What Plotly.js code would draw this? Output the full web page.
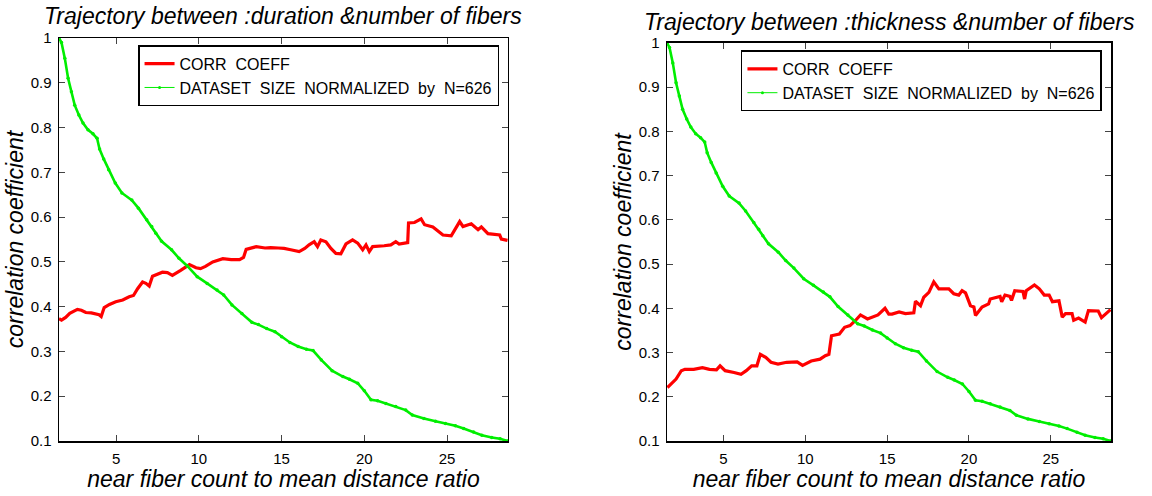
<!DOCTYPE html>
<html>
<head>
<meta charset="utf-8">
<script src="https://cdn.plot.ly/plotly-3.0.1.min.js"></script>
<style>html,body{margin:0;padding:0;background:#fff;}#chart{width:1152px;height:496px;}</style>
</head>
<body>
<div id="chart"></div>
<script>
// Shared x ticks / y ticks
const xTickVals = [5, 10, 15, 20, 25];
const yTickVals = [0.1, 0.2, 0.3, 0.4, 0.5, 0.6, 0.7, 0.8, 0.9, 1];
const yTickText = ["0.1", "0.2", "0.3", "0.4", "0.5", "0.6", "0.7", "0.8", "0.9", "1"];

// Dataset size normalized by N=626 (same in both panels)
const sizeX = [1.55,1.7,1.9,2.1,2.3,2.5,2.75,3.0,3.3,3.6,3.85,4.0,4.25,4.55,4.95,5.35,5.95,6.35,6.85,7.15,7.4,7.75,8.35,8.8,9.3,9.9,10.5,11.1,11.5,12.0,12.6,13.2,13.6,14.1,14.6,15.0,15.5,16.0,16.5,16.9,17.4,18.05,18.7,19.1,19.6,20.0,20.4,20.8,21.3,21.9,22.5,22.9,23.6,24.3,24.9,25.5,26.0,26.6,27.1,27.7,28.2,28.65];
const sizeY = [1.0,0.99,0.955,0.91,0.88,0.85,0.828,0.81,0.795,0.786,0.776,0.752,0.73,0.706,0.676,0.654,0.638,0.62,0.594,0.579,0.564,0.546,0.527,0.508,0.491,0.467,0.452,0.437,0.426,0.404,0.385,0.365,0.36,0.351,0.344,0.333,0.32,0.311,0.305,0.302,0.281,0.257,0.244,0.238,0.229,0.212,0.192,0.19,0.184,0.177,0.169,0.158,0.15,0.144,0.139,0.134,0.128,0.12,0.113,0.108,0.105,0.1];

// Corr coeff: duration vs number of fibers
const durX = [1.55,1.7,1.95,2.2,2.66,2.9,3.17,3.5,3.97,4.1,4.28,4.6,4.98,5.4,5.79,6.05,6.3,6.6,6.8,7.0,7.2,7.6,7.8,8.1,8.4,8.9,9.43,9.83,10.1,10.4,10.84,11.45,11.95,12.46,12.7,12.86,13.47,14.0,14.34,14.8,15.15,15.55,16.06,16.4,16.66,16.97,17.17,17.37,17.68,17.98,18.28,18.58,18.89,19.29,19.6,19.9,20.1,20.3,20.5,21.2,21.6,21.9,22.1,22.62,22.67,23.03,23.43,23.64,24.14,24.75,25.25,25.76,25.96,26.46,26.87,27.07,27.47,28.18,28.28,28.65];
const durY = [0.373,0.37,0.376,0.385,0.394,0.392,0.387,0.386,0.382,0.378,0.398,0.405,0.411,0.415,0.422,0.425,0.44,0.455,0.452,0.446,0.468,0.475,0.477,0.476,0.47,0.481,0.494,0.487,0.485,0.49,0.5,0.507,0.505,0.505,0.51,0.528,0.534,0.531,0.532,0.531,0.530,0.527,0.523,0.53,0.538,0.545,0.534,0.549,0.545,0.530,0.519,0.518,0.540,0.549,0.542,0.527,0.538,0.523,0.534,0.536,0.538,0.545,0.540,0.543,0.587,0.588,0.596,0.583,0.578,0.560,0.558,0.590,0.579,0.585,0.572,0.578,0.563,0.560,0.551,0.548];

// Corr coeff: thickness vs number of fibers
const thkX = [1.57,1.78,2.1,2.42,2.64,3.18,3.71,4.14,4.57,4.79,5.1,5.64,6.07,6.39,6.72,7.04,7.25,7.58,7.9,8.33,8.86,9.5,9.83,10.36,10.9,11.22,11.44,11.6,12.08,12.4,12.73,13.05,13.37,13.8,14.44,14.87,15.1,15.3,15.73,16.12,16.37,16.63,16.73,17.04,17.24,17.55,17.85,18.16,18.77,19.07,19.38,19.58,19.79,20.09,20.3,20.4,20.8,21.2,21.3,21.9,22.0,22.2,22.5,22.6,22.8,23.3,23.4,23.5,24.0,24.3,24.6,24.9,25.1,25.5,25.7,25.9,26.3,26.4,26.7,27.1,27.3,27.9,28.1,28.65];
const thkY = [0.221,0.228,0.24,0.259,0.262,0.262,0.266,0.262,0.261,0.27,0.259,0.255,0.251,0.259,0.27,0.27,0.296,0.289,0.278,0.274,0.278,0.279,0.271,0.281,0.285,0.293,0.296,0.338,0.342,0.357,0.361,0.372,0.385,0.376,0.385,0.4,0.387,0.387,0.392,0.388,0.389,0.39,0.416,0.406,0.425,0.436,0.46,0.444,0.444,0.433,0.43,0.44,0.435,0.406,0.403,0.384,0.403,0.41,0.421,0.427,0.415,0.43,0.427,0.418,0.44,0.438,0.421,0.44,0.453,0.444,0.43,0.43,0.415,0.417,0.38,0.388,0.388,0.373,0.378,0.369,0.395,0.394,0.379,0.397];

const corrName = "CORR&#160;&#160;COEFF";
const sizeName = "DATASET&#160;&#160;SIZE&#160;&#160;NORMALIZED&#160;&#160;by&#160;&#160;N=626";
const leftTitle = "Trajectory between :duration &amp;number of fibers";
const rightTitle = "Trajectory between :thickness &amp;number of fibers";
const xTitle = "near fiber count to mean distance ratio";
const yTitle = "correlation coefficient";

const FONT = "Liberation Sans, Arial, sans-serif";
const RED = "#ff0000", GREEN = "#00ee00";

function panel(xa, ya, leg, cx, cy) {
  return [
    {x: cx, y: cy, xaxis: xa, yaxis: ya, legend: leg, name: corrName, mode: "lines",
     line: {color: RED, width: 3.2}},
    {x: sizeX, y: sizeY, xaxis: xa, yaxis: ya, legend: leg, mode: "lines+markers", showlegend: false,
     line: {color: GREEN, width: 2.6}, marker: {color: GREEN, size: 3.5}},
    {x: [null], y: [null], xaxis: xa, yaxis: ya, legend: leg, name: sizeName, mode: "lines+markers",
     line: {color: GREEN, width: 1}, marker: {color: GREEN, size: 3}}
  ];
}

const data = panel("x", "y", "legend", durX, durY).concat(panel("x2", "y2", "legend2", thkX, thkY));

function xax(dom, anchor) {
  return {domain: dom, anchor: anchor, range: [1.55, 28.68], tickvals: xTickVals,
    ticks: "inside", ticklen: 6, tickwidth: 1, tickcolor: "#444", showline: true, linecolor: "#000", linewidth: 1.5,
    mirror: "ticks", showgrid: false, zeroline: false, ticklabelstandoff: 3,
    tickfont: {family: FONT, size: 15, color: "#000"},
    title: {text: xTitle, font: {family: FONT, size: 23, style: "italic", color: "#000"}, standoff: 0}};
}
function yax(dom, anchor) {
  return {domain: dom, anchor: anchor, range: [0.1, 1.0], tickvals: yTickVals, ticktext: yTickText,
    ticks: "inside", ticklen: 6, tickwidth: 1, tickcolor: "#444", showline: true, linecolor: "#000", linewidth: 1.5,
    mirror: "ticks", showgrid: false, zeroline: false, ticklabelstandoff: 3,
    tickfont: {family: FONT, size: 15, color: "#000"},
    title: {text: yTitle, font: {family: FONT, size: 23, style: "italic", color: "#000"}, standoff: 0}};
}
function legend(x, y) {
  return {x: x, y: y, xanchor: "right", yanchor: "top", bgcolor: "#fff", bordercolor: "#000", borderwidth: 1.5,
    font: {family: FONT, size: 16, color: "#000"}, tracegroupgap: 0, itemwidth: 30};
}

const layout = {
  width: 1152, height: 496,
  margin: {l: 59, r: 41, t: 38, b: 55},
  paper_bgcolor: "#fff", plot_bgcolor: "#fff",
  showlegend: true,
  xaxis: xax([0, 0.4268], "y"),
  yaxis: yax([0, 1], "x"),
  xaxis2: xax([0.578, 1], "y2"),
  yaxis2: yax([0, 0.9876], "x2"),
  legend: legend(0.4183, 0.982),
  legend2: legend(0.9914, 0.969),
  annotations: [
    {text: leftTitle, xref: "x domain", x: 0.5, yref: "paper", y: 1.055, xanchor: "center", yanchor: "middle",
     showarrow: false, font: {family: FONT, size: 23, style: "italic", color: "#000"}},
    {text: rightTitle, xref: "x2 domain", x: 0.5, yref: "paper", y: 1.04, xanchor: "center", yanchor: "middle",
     showarrow: false, font: {family: FONT, size: 23, style: "italic", color: "#000"}}
  ]
};

Plotly.newPlot("chart", data, layout, {displayModeBar: false, staticPlot: true});
</script>
</body>
</html>
